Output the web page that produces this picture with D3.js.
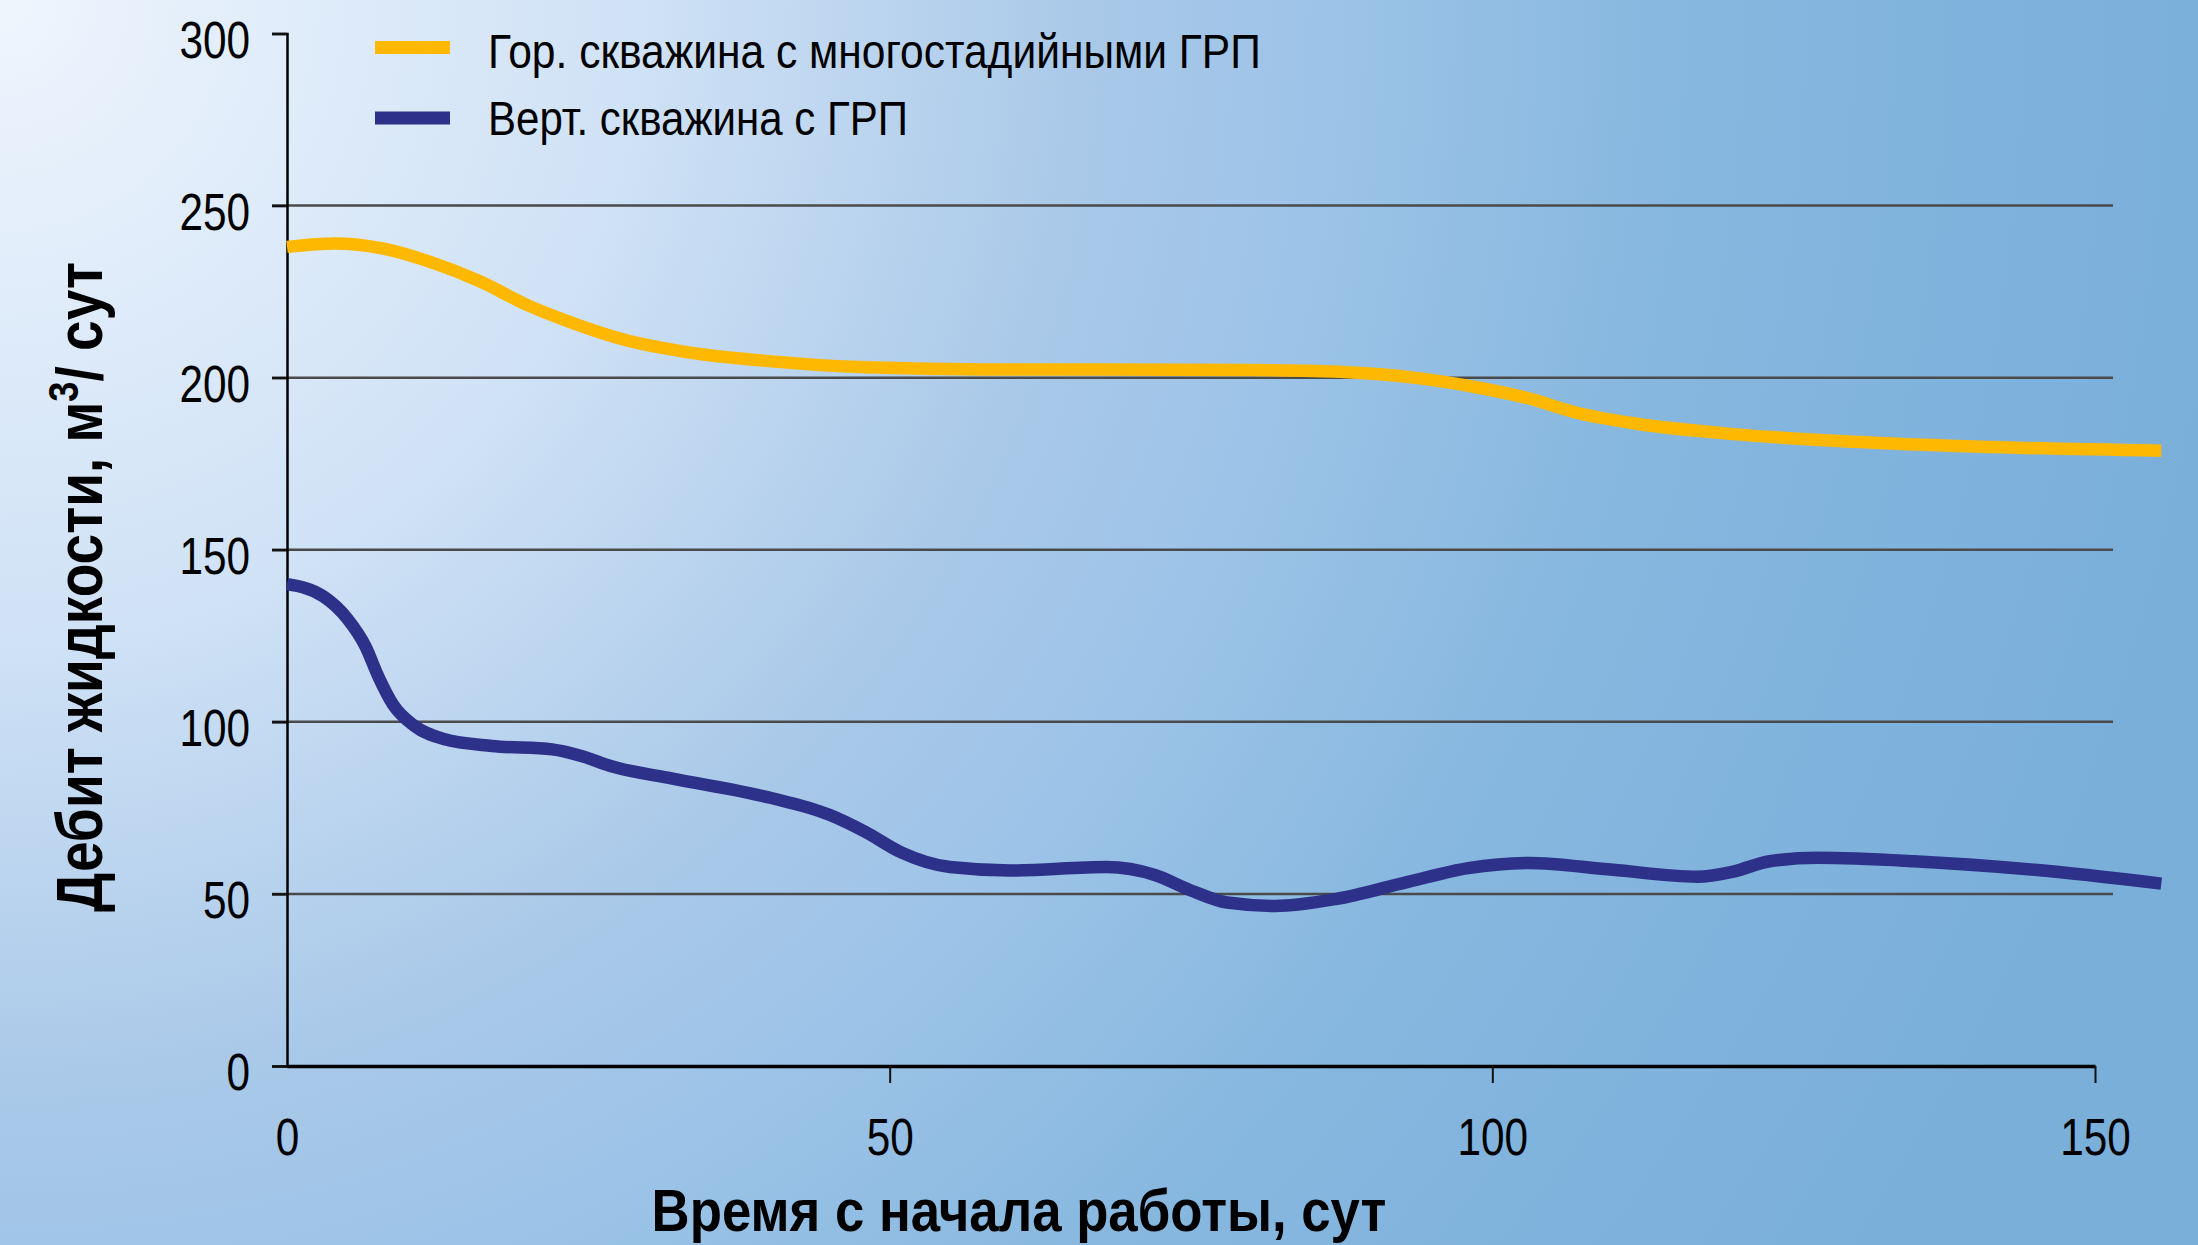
<!DOCTYPE html>
<html>
<head>
<meta charset="utf-8">
<script src="https://cdn.jsdelivr.net/npm/d3@7"></script>
<style>
  html, body { margin: 0; padding: 0; overflow: hidden; }
  text { font-family: "Liberation Sans Narrow", "Liberation Sans", Arial, sans-serif; }
</style>
</head>
<body>
<div id="chart"></div>
<script>
// series: horizontal well with multistage frac
var horDays   = [0, 4, 8, 12, 16, 20, 24, 28, 33, 40, 48, 58, 68, 80, 88, 94, 99, 103, 107, 112, 120, 130, 140, 155.5];
var horRate   = [238, 239, 237.5, 233.5, 228, 221, 215.5, 211, 207.5, 204.8, 203, 202.4, 202.4, 202.2, 201.6, 199.8, 197, 194, 189.8, 186.6, 183.6, 181.4, 180, 178.8];

// series: vertical well with frac
var vertDays  = [0, 3, 5, 6.5, 7.6, 8.8, 10.5, 13, 17, 22, 24.5, 27, 32, 40, 45, 48, 51, 55, 60, 68, 72, 75, 78, 82, 87, 93, 98, 103, 110, 117, 120, 123, 127, 135, 145, 155.5];
var vertRate  = [140, 136.5, 130, 122, 113, 105, 99, 95, 93, 92, 90, 87, 83.5, 78, 73, 68, 62, 57.8, 56.8, 57.8, 55.5, 51, 47.5, 46.5, 48.5, 53.5, 57.5, 59, 57, 55, 56.5, 59.5, 60.5, 59.5, 57, 53];

var seriesNames = ["Гор. скважина с многостадийными ГРП", "Верт. скважина с ГРП"];
var xTicks = [0, 50, 100, 150];
var yTicks = [0, 50, 100, 150, 200, 250, 300];
var xTitle = "Время с начала работы, сут";

function init() {
    var w = 2198;
    var h = 1245;

    var svg = d3.select("#chart")
                .append("svg")
                .attr("width", w)
                .attr("height", h);

    // background: light top-left fading into blue
    var grad = svg.append("defs").append("radialGradient")
        .attr("id", "bg")
        .attr("gradientUnits", "userSpaceOnUse")
        .attr("cx", 0).attr("cy", 0).attr("r", 2250);
    [["0", "#eef5fd"], ["0.28", "#d0e2f6"], ["0.49", "#a8c8e8"], ["0.58", "#9ec4e8"],
     ["0.75", "#86b7df"], ["1", "#7aafda"]].forEach(function(s) {
        grad.append("stop").attr("offset", s[0]).attr("stop-color", s[1]);
    });
    svg.append("rect").attr("width", w).attr("height", h).attr("fill", "url(#bg)");

    var xScale = d3.scaleLinear().domain([0, 150]).range([287, 2095]);
    var yScale = d3.scaleLinear().domain([0, 300]).range([1066, 33.5]);

    // gridlines (with left tick stubs)
    svg.selectAll("line.grid")
        .data(yTicks.filter(function(d) { return d > 0 && d < 300; }))
        .enter()
        .append("line")
        .attr("class", "grid")
        .attr("x1", 272)
        .attr("x2", 2113)
        .attr("y1", function(d) { return yScale(d); })
        .attr("y2", function(d) { return yScale(d); })
        .attr("stroke", "#4a4a4a")
        .attr("stroke-width", 2.5);

    // y axis
    var yAxis = svg.append("g")
        .attr("transform", "translate(287,0)")
        .call(d3.axisLeft(yScale).tickValues(yTicks).tickSize(15).tickPadding(22));
    yAxis.select(".domain").attr("stroke", "#000").attr("stroke-width", 2.5);
    yAxis.selectAll(".tick line").attr("stroke", "#111").attr("stroke-width", 2.5);
    yAxis.selectAll(".tick text")
        .attr("font-size", 51)
        .attr("fill", "#000")
        .attr("dy", "0.47em")
        .attr("transform", "translate(-37,0) scale(0.83,1) translate(37,0)");

    // x axis
    var xAxis = svg.append("g")
        .attr("transform", "translate(0,1066)")
        .call(d3.axisBottom(xScale).tickValues(xTicks).tickSize(17).tickSizeOuter(0).tickPadding(36));
    xAxis.select(".domain").attr("stroke", "#000").attr("stroke-width", 3.5);
    xAxis.selectAll(".tick line").attr("stroke", "#111").attr("stroke-width", 2);
    xAxis.selectAll(".tick text")
        .attr("font-size", 51)
        .attr("fill", "#000")
        .attr("transform", "scale(0.83,1)");
    xAxis.selectAll(".tick").filter(function(d) { return d === 0; }).select("line").remove();

    // lines
    var line = d3.line()
        .x(function(d) { return xScale(d[0]); })
        .y(function(d) { return yScale(d[1]); })
        .curve(d3.curveMonotoneX);

    var series = [
        { days: horDays, rate: horRate, color: "#ffb800" },
        { days: vertDays, rate: vertRate, color: "#2e3189" }
    ];

    svg.selectAll("path.series")
        .data(series)
        .enter()
        .append("path")
        .attr("class", "series")
        .attr("d", function(s) { return line(d3.zip(s.days, s.rate)); })
        .attr("fill", "none")
        .attr("stroke", function(s) { return s.color; })
        .attr("stroke-width", 12.5);

    // legend
    var legend = svg.selectAll("g.legend")
        .data(series)
        .enter()
        .append("g")
        .attr("class", "legend")
        .attr("transform", function(d, i) { return "translate(375," + (47.5 + i * 70.5) + ")"; });
    legend.append("rect")
        .attr("x", 0).attr("y", -6.5)
        .attr("width", 75).attr("height", 13)
        .attr("fill", function(s) { return s.color; });
    var legendWidths = [773, 420];
    legend.append("text")
        .attr("x", 113)
        .attr("y", function(d, i) { return i === 0 ? 20.5 : 17; })
        .attr("font-size", 48)
        .attr("fill", "#000")
        .text(function(d, i) { return seriesNames[i]; })
        .each(function(d, i) { fitWidth(d3.select(this), legendWidths[i], 113); });

    // x title
    var xt = svg.append("text")
        .attr("x", 1019)
        .attr("y", 1231)
        .attr("text-anchor", "middle")
        .attr("font-size", 60)
        .attr("font-weight", "bold")
        .attr("fill", "#000")
        .text(xTitle);
    fitWidth(xt, 735, 1019);

    // y title (rotated)
    var yg = svg.append("g").attr("transform", "translate(102,587) rotate(-90)");
    var yt = yg.append("text")
        .attr("text-anchor", "middle")
        .attr("font-size", 64)
        .attr("font-weight", "bold")
        .attr("fill", "#000");
    yt.append("tspan").text("Дебит жидкости, м");
    yt.append("tspan").attr("font-size", 42).attr("dy", -24).text("3");
    yt.append("tspan").attr("dy", 24).text("/ сут");
    fitWidth(yt, 650, 0);
}

// squeeze a text horizontally to the width measured on the original
function fitWidth(sel, target, anchorX) {
    var bw = sel.node().getBBox().width;
    if (!bw) return;
    var k = target / bw;
    sel.attr("transform", "translate(" + anchorX + ",0) scale(" + k + ",1) translate(" + (-anchorX) + ",0)");
}

window.onload = init;
</script>
</body>
</html>
